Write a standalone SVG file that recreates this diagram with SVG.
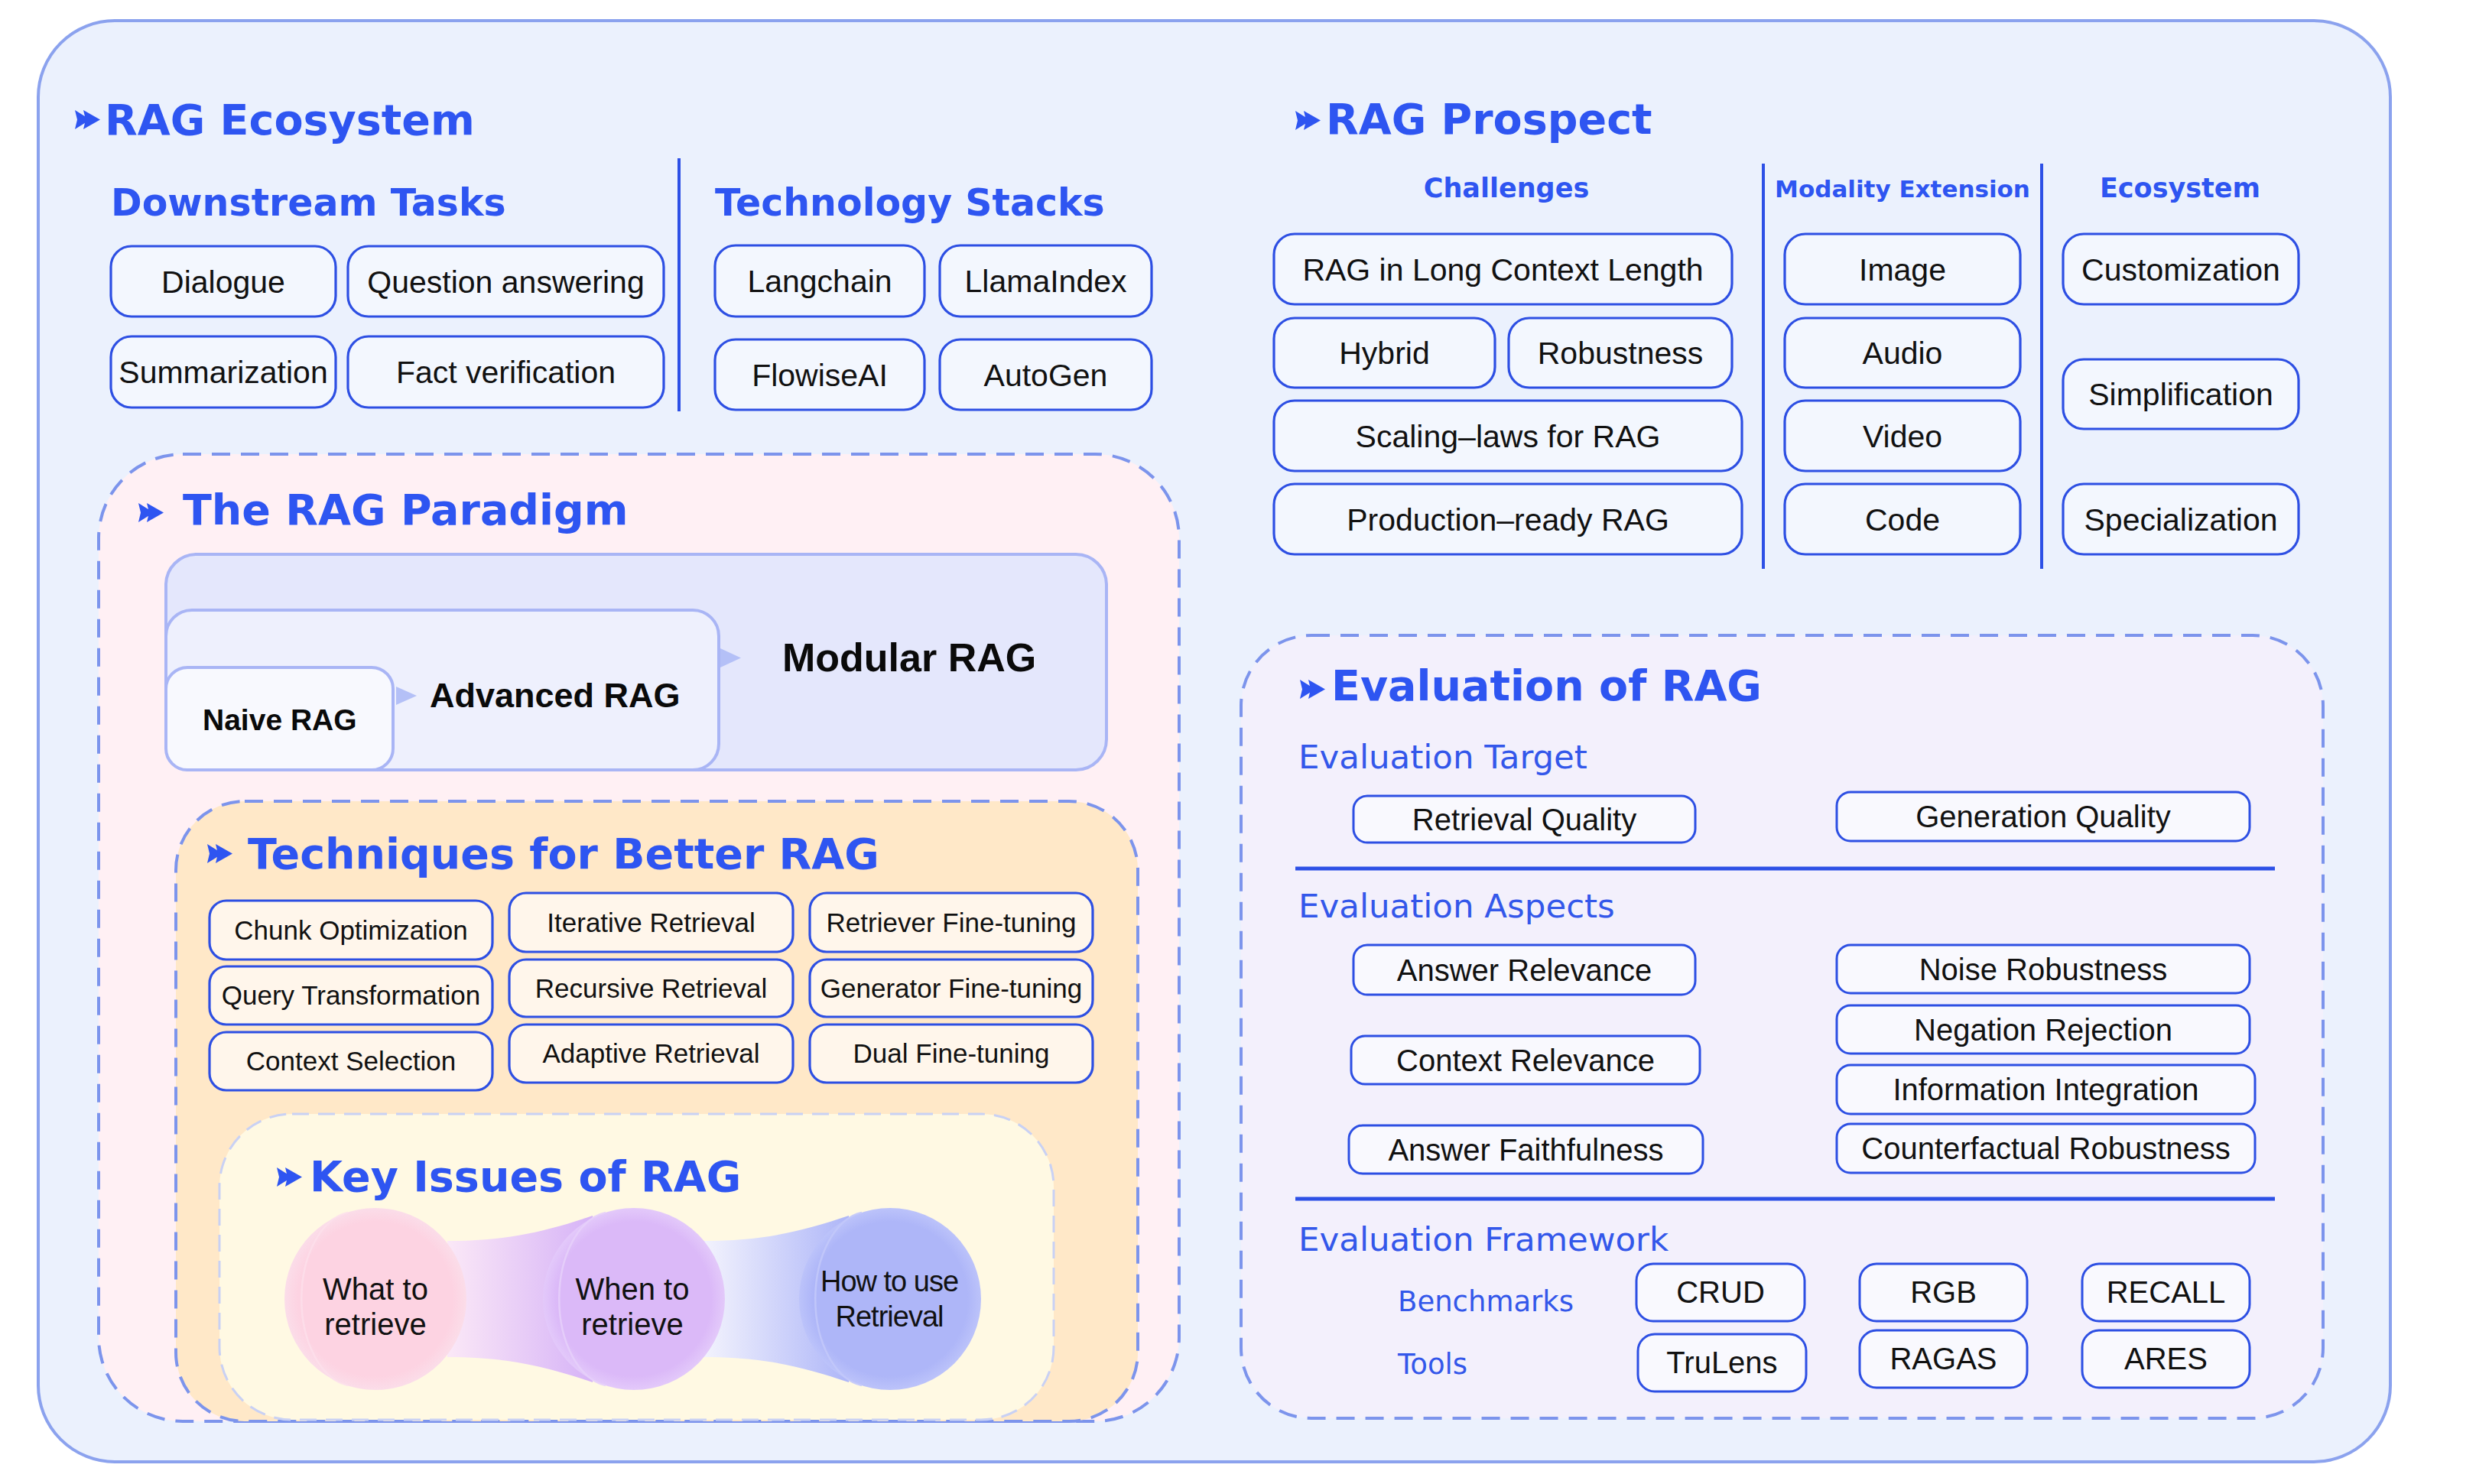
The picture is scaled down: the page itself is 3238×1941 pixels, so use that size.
<svg xmlns="http://www.w3.org/2000/svg" width="3238" height="1941" viewBox="0 0 3238 1941">
<style>
.title{font-family:"DejaVu Sans","Liberation Sans",sans-serif;font-weight:bold;font-size:55.5px;fill:#2E55F1}
.sub{font-family:"DejaVu Sans","Liberation Sans",sans-serif;font-weight:bold;font-size:49px;fill:#2E55F1}
.col{font-family:"DejaVu Sans","Liberation Sans",sans-serif;font-weight:bold;font-size:35px;fill:#2E55F1;text-anchor:middle}
.evsub{font-family:"DejaVu Sans","Liberation Sans",sans-serif;font-size:43.5px;fill:#3357EA}
.fw{font-family:"DejaVu Sans","Liberation Sans",sans-serif;font-size:37px;fill:#3357EA}
.bt{font-family:"Liberation Sans",Arial,sans-serif;font-size:41px;fill:#111;text-anchor:middle}
.bt35{font-family:"Liberation Sans",Arial,sans-serif;font-size:35px;fill:#111;text-anchor:middle}
.bt40{font-family:"Liberation Sans",Arial,sans-serif;font-size:40px;fill:#111;text-anchor:middle}
.pt{font-family:"Liberation Sans",Arial,sans-serif;font-weight:bold;fill:#0A0A0A}
.ki{font-family:"Liberation Sans",Arial,sans-serif;font-size:40px;fill:#111;text-anchor:middle}
.box{fill:#F3F7FE;stroke:#2D4FE3;stroke-width:3.2}
.tbox{fill:#FFF6EB;stroke:#2D4FE3;stroke-width:3.2}
.ebox{fill:#F9F9FE;stroke:#2D4FE3;stroke-width:3}
.dash{stroke:#7C94EC;stroke-width:4;stroke-dasharray:24 14}
.sep{stroke:#2D50E6;stroke-width:4}
.pbox{stroke:#A9B5F5;stroke-width:4}
.ico{fill:#2E55F1}
</style>
<defs>
<symbol id="arr" viewBox="0 0 33 25">
<path d="M0,0 L20,12.5 L0,25 L3,12.5 Z M11,0 L33,12.5 L11,25 L14,12.5 Z"/>
</symbol>
<linearGradient id="band1" x1="0" y1="0" x2="1" y2="0">
<stop offset="0" stop-color="#FBE8F7"/>
<stop offset="1" stop-color="#D6B3F7"/>
</linearGradient>
<linearGradient id="band2" x1="0" y1="0" x2="1" y2="0">
<stop offset="0" stop-color="#F3F3FD"/>
<stop offset="1" stop-color="#AEB6F8"/>
</linearGradient>
<radialGradient id="gPink" cx="0.5" cy="0.5" r="0.5">
<stop offset="0.85" stop-color="#FDD3E2"/>
<stop offset="1" stop-color="#FBDDE9"/>
</radialGradient>
<radialGradient id="gPurple" cx="0.5" cy="0.5" r="0.5">
<stop offset="0.85" stop-color="#DBB9F8"/>
<stop offset="1" stop-color="#E3C9FA"/>
</radialGradient>
<radialGradient id="gBlue" cx="0.5" cy="0.5" r="0.5">
<stop offset="0.85" stop-color="#AEB6F8"/>
<stop offset="1" stop-color="#BCC3FA"/>
</radialGradient>
</defs>

<rect width="3238" height="1941" fill="#FFFFFF"/>

<g id="outer">
<rect x="50" y="27" width="3076" height="1885" rx="100" fill="#EBF1FD" stroke="#8BA2EE" stroke-width="4"/>
</g>

<g id="rag-ecosystem">
<use href="#arr" x="98" y="144" width="33" height="25" class="ico"/>
<text class="title" x="137" y="176">RAG Ecosystem</text>
<text class="sub" x="145" y="282">Downstream Tasks</text>
<text class="sub" x="935" y="282">Technology Stacks</text>
<line class="sep" x1="888" y1="207" x2="888" y2="538"/>
<g id="n-dialogue"><rect class="box" x="145" y="322" width="294" height="92" rx="27"/><text class="bt" x="292" y="383">Dialogue</text></g>
<g id="n-qa"><rect class="box" x="455" y="322" width="413" height="92" rx="27"/><text class="bt" x="661.5" y="383">Question answering</text></g>
<g id="n-summ"><rect class="box" x="145" y="440" width="294" height="93" rx="27"/><text class="bt" x="292" y="501">Summarization</text></g>
<g id="n-fact"><rect class="box" x="455" y="440" width="413" height="93" rx="27"/><text class="bt" x="661.5" y="501">Fact verification</text></g>
<g id="n-langchain"><rect class="box" x="935" y="321" width="274" height="93" rx="27"/><text class="bt" x="1072" y="382">Langchain</text></g>
<g id="n-llama"><rect class="box" x="1229" y="321" width="277" height="93" rx="27"/><text class="bt" x="1367.5" y="382">LlamaIndex</text></g>
<g id="n-flowise"><rect class="box" x="935" y="444" width="274" height="92" rx="27"/><text class="bt" x="1072" y="505">FlowiseAI</text></g>
<g id="n-autogen"><rect class="box" x="1229" y="444" width="277" height="92" rx="27"/><text class="bt" x="1367.5" y="505">AutoGen</text></g>
</g>

<g id="rag-prospect">
<use href="#arr" x="1694" y="145" width="33" height="25" class="ico"/>
<text class="title" x="1734" y="175">RAG Prospect</text>
<text class="col" x="1970" y="258">Challenges</text>
<text class="col" x="2488" y="258" style="font-size:31px">Modality Extension</text>
<text class="col" x="2851" y="258">Ecosystem</text>
<line class="sep" x1="2306" y1="214" x2="2306" y2="744"/>
<line class="sep" x1="2670" y1="214" x2="2670" y2="744"/>
<g id="n-longctx"><rect class="box" x="1666" y="306" width="599" height="92" rx="27"/><text class="bt" x="1965.5" y="367">RAG in Long Context Length</text></g>
<g id="n-hybrid"><rect class="box" x="1666" y="416" width="289" height="91" rx="27"/><text class="bt" x="1810.5" y="476">Hybrid</text></g>
<g id="n-robust"><rect class="box" x="1973" y="416" width="292" height="91" rx="27"/><text class="bt" x="2119" y="476">Robustness</text></g>
<g id="n-scaling"><rect class="box" x="1666" y="524" width="612" height="92" rx="27"/><text class="bt" x="1972" y="585">Scaling–laws for RAG</text></g>
<g id="n-prod"><rect class="box" x="1666" y="633" width="612" height="92" rx="27"/><text class="bt" x="1972" y="694">Production–ready RAG</text></g>
<g id="n-image"><rect class="box" x="2334" y="306" width="308" height="92" rx="27"/><text class="bt" x="2488" y="367">Image</text></g>
<g id="n-audio"><rect class="box" x="2334" y="416" width="308" height="91" rx="27"/><text class="bt" x="2488" y="476">Audio</text></g>
<g id="n-video"><rect class="box" x="2334" y="524" width="308" height="92" rx="27"/><text class="bt" x="2488" y="585">Video</text></g>
<g id="n-code"><rect class="box" x="2334" y="633" width="308" height="92" rx="27"/><text class="bt" x="2488" y="694">Code</text></g>
<g id="n-custom"><rect class="box" x="2698" y="306" width="308" height="92" rx="27"/><text class="bt" x="2852" y="367">Customization</text></g>
<g id="n-simpl"><rect class="box" x="2698" y="470" width="308" height="91" rx="27"/><text class="bt" x="2852" y="530">Simplification</text></g>
<g id="n-spec"><rect class="box" x="2698" y="633" width="308" height="92" rx="27"/><text class="bt" x="2852" y="694">Specialization</text></g>
</g>

<g id="rag-paradigm">
<rect class="dash" x="129" y="594" width="1413" height="1265" rx="110" fill="#FFF0F4"/>
<use href="#arr" x="181" y="658" width="33" height="25" class="ico"/>
<text class="title" x="239" y="686">The RAG Paradigm</text>
<g id="n-modular"><rect class="pbox" x="217" y="725" width="1230" height="282" rx="40" fill="#E4E7FC"/><text class="pt" x="1023" y="878" style="font-size:52px">Modular RAG</text></g>
<g id="n-advanced"><rect class="pbox" x="217" y="798" width="723" height="209" rx="34" fill="#EEF0FD"/><text class="pt" x="562" y="925" style="font-size:45px">Advanced RAG</text></g>
<g id="n-naive"><rect class="pbox" x="217" y="873" width="297" height="134" rx="28" fill="#F8F9FE"/><text class="pt" x="265" y="955" style="font-size:39px">Naive RAG</text></g>
</g>

<g id="techniques">
<rect class="dash" x="230" y="1048" width="1258" height="811" rx="90" fill="#FFE8C8"/>
<use href="#arr" x="271" y="1104" width="33" height="25" class="ico"/>
<text class="title" x="324" y="1136">Techniques for Better RAG</text>
<g id="n-chunk"><rect class="tbox" x="274" y="1178" width="370" height="77" rx="22"/><text class="bt35" x="459" y="1229">Chunk Optimization</text></g>
<g id="n-query"><rect class="tbox" x="274" y="1264" width="370" height="76" rx="22"/><text class="bt35" x="459" y="1314">Query Transformation</text></g>
<g id="n-ctxsel"><rect class="tbox" x="274" y="1350" width="370" height="76" rx="22"/><text class="bt35" x="459" y="1400">Context Selection</text></g>
<g id="n-iter"><rect class="tbox" x="666" y="1168" width="371" height="77" rx="22"/><text class="bt35" x="851.5" y="1219">Iterative Retrieval</text></g>
<g id="n-recur"><rect class="tbox" x="666" y="1255" width="371" height="75" rx="22"/><text class="bt35" x="851.5" y="1305">Recursive Retrieval</text></g>
<g id="n-adapt"><rect class="tbox" x="666" y="1340" width="371" height="76" rx="22"/><text class="bt35" x="851.5" y="1390">Adaptive Retrieval</text></g>
<g id="n-retft"><rect class="tbox" x="1059" y="1168" width="370" height="77" rx="22"/><text class="bt35" x="1244" y="1219">Retriever Fine-tuning</text></g>
<g id="n-genft"><rect class="tbox" x="1059" y="1255" width="370" height="75" rx="22"/><text class="bt35" x="1244" y="1305">Generator Fine-tuning</text></g>
<g id="n-dualft"><rect class="tbox" x="1059" y="1340" width="370" height="76" rx="22"/><text class="bt35" x="1244" y="1390">Dual Fine-tuning</text></g>
</g>

<g id="key-issues">
<rect x="287" y="1457" width="1091" height="400" rx="95" fill="#FFF9E3" stroke="#C9D1F4" stroke-width="3" stroke-dasharray="22 12"/>
<use href="#arr" x="362" y="1527" width="33" height="25" class="ico"/>
<text class="title" x="405" y="1558">Key Issues of RAG</text>
</g>

<g id="connectors">
<path d="M518,898 L545,910 L518,922 Z" fill="#B4C0F7"/>
<path d="M942,848 L969,860.5 L942,873 Z" fill="#B4C0F7"/>
<path d="M585,1623 C660,1623 710,1612 775,1590 L775,1808 C710,1786 660,1775 585,1775 Z" fill="url(#band1)"/>
<path d="M920,1623 C995,1623 1045,1612 1110,1590 L1110,1808 C1045,1786 995,1775 920,1775 Z" fill="url(#band2)"/>
</g>

<g id="n-what">
<circle cx="491" cy="1699" r="119" fill="url(#gPink)"/>
<path d="M455,1586 A70,114 0 0 0 455,1812" fill="none" stroke="#FCE0EB" stroke-width="2.5" opacity="0.8"/>
<text class="ki" x="491" y="1700">What to</text>
<text class="ki" x="491" y="1746">retrieve</text>
</g>
<g id="n-when">
<circle cx="829" cy="1699" r="119" fill="url(#gPurple)"/>
<path d="M792,1586 A70,114 0 0 0 792,1812" fill="none" stroke="#E6CFFA" stroke-width="2.5" opacity="0.9"/>
<text class="ki" x="827" y="1700">When to</text>
<text class="ki" x="827" y="1746">retrieve</text>
</g>
<g id="n-how">
<circle cx="1164" cy="1699" r="119" fill="url(#gBlue)"/>
<path d="M1127,1586 A70,114 0 0 0 1127,1812" fill="none" stroke="#C2C8FA" stroke-width="2.5" opacity="0.9"/>
<text class="ki" x="1163" y="1689" style="font-size:38px;letter-spacing:-1px">How to use</text>
<text class="ki" x="1163" y="1735" style="font-size:38px;letter-spacing:-1px">Retrieval</text>
</g>

<g id="evaluation">
<rect class="dash" x="1623" y="831" width="1415" height="1024" rx="92" fill="#F3F0FC"/>
<use href="#arr" x="1700" y="889" width="33" height="25" class="ico"/>
<text class="title" x="1741" y="916">Evaluation of RAG</text>
<text class="evsub" x="1698" y="1005">Evaluation Target</text>
<text class="evsub" x="1698" y="1200">Evaluation Aspects</text>
<text class="evsub" x="1698" y="1636">Evaluation Framework</text>
<line x1="1694" y1="1136" x2="2975" y2="1136" stroke="#2D50E6" stroke-width="5"/>
<line x1="1694" y1="1568" x2="2975" y2="1568" stroke="#2D50E6" stroke-width="5"/>
<text class="fw" x="1828" y="1715">Benchmarks</text>
<text class="fw" x="1828" y="1797">Tools</text>
<g id="n-retq"><rect class="ebox" x="1770" y="1041" width="447" height="61" rx="18"/><text class="bt40" x="1993.5" y="1086">Retrieval Quality</text></g>
<g id="n-genq"><rect class="ebox" x="2402" y="1036" width="540" height="64" rx="18"/><text class="bt40" x="2672" y="1082">Generation Quality</text></g>
<g id="n-ansrel"><rect class="ebox" x="1770" y="1236" width="447" height="65" rx="18"/><text class="bt40" x="1993.5" y="1283">Answer Relevance</text></g>
<g id="n-noise"><rect class="ebox" x="2402" y="1236" width="540" height="63" rx="18"/><text class="bt40" x="2672" y="1282">Noise Robustness</text></g>
<g id="n-neg"><rect class="ebox" x="2402" y="1315" width="540" height="63" rx="18"/><text class="bt40" x="2672" y="1361">Negation Rejection</text></g>
<g id="n-ctxrel"><rect class="ebox" x="1767" y="1355" width="456" height="63" rx="18"/><text class="bt40" x="1995" y="1401">Context Relevance</text></g>
<g id="n-info"><rect class="ebox" x="2402" y="1393" width="547" height="64" rx="18"/><text class="bt40" x="2675.5" y="1439">Information Integration</text></g>
<g id="n-faith"><rect class="ebox" x="1764" y="1472" width="463" height="63" rx="18"/><text class="bt40" x="1995.5" y="1518">Answer Faithfulness</text></g>
<g id="n-counter"><rect class="ebox" x="2402" y="1470" width="547" height="64" rx="18"/><text class="bt40" x="2675.5" y="1516">Counterfactual Robustness</text></g>
<g id="n-crud"><rect class="ebox" x="2140" y="1653" width="220" height="75" rx="22"/><text class="bt40" x="2250" y="1704">CRUD</text></g>
<g id="n-rgb"><rect class="ebox" x="2432" y="1653" width="219" height="75" rx="22"/><text class="bt40" x="2541.5" y="1704">RGB</text></g>
<g id="n-recall"><rect class="ebox" x="2723" y="1653" width="219" height="75" rx="22"/><text class="bt40" x="2832.5" y="1704">RECALL</text></g>
<g id="n-trulens"><rect class="ebox" x="2142" y="1745" width="220" height="75" rx="22"/><text class="bt40" x="2252" y="1796">TruLens</text></g>
<g id="n-ragas"><rect class="ebox" x="2432" y="1740" width="219" height="75" rx="22"/><text class="bt40" x="2541.5" y="1791">RAGAS</text></g>
<g id="n-ares"><rect class="ebox" x="2723" y="1740" width="219" height="75" rx="22"/><text class="bt40" x="2832.5" y="1791">ARES</text></g>
</g>
</svg>
